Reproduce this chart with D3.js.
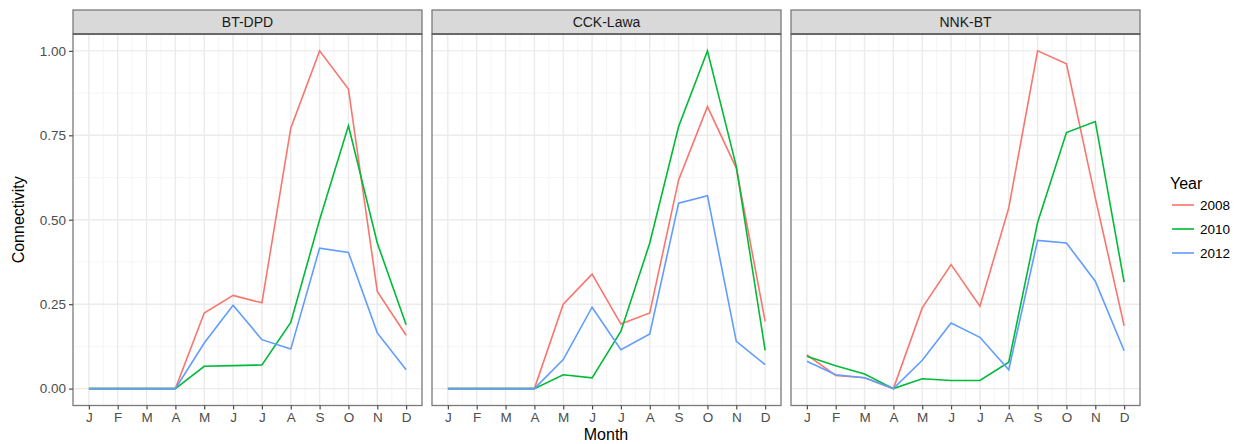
<!DOCTYPE html>
<html>
<head>
<meta charset="utf-8">
<script src="https://cdn.jsdelivr.net/npm/d3@7"></script>
<style>
  body { margin: 0; background: #fff; }
  text { font-family: "Liberation Sans", Arial, sans-serif; }
</style>
</head>
<body>
<script>
// data
const months = ['J', 'F', 'M', 'A', 'M', 'J', 'J', 'A', 'S', 'O', 'N', 'D'];
const sites = ['BT-DPD', 'CCK-Lawa', 'NNK-BT'];
const years = ['2008', '2010', '2012'];
const yTicks = [0, 0.25, 0.5, 0.75, 1];

const btdpd2008 = [0, 0, 0, 0, 0.224, 0.276, 0.254, 0.771, 1.0, 0.887, 0.288, 0.158];
const btdpd2010 = [0, 0, 0, 0, 0.066, 0.068, 0.07, 0.196, 0.5, 0.778, 0.431, 0.189];
const btdpd2012 = [0, 0, 0, 0, 0.135, 0.247, 0.145, 0.117, 0.416, 0.403, 0.165, 0.056];

const cck2008 = [0, 0, 0, 0, 0.25, 0.339, 0.191, 0.224, 0.618, 0.835, 0.653, 0.199];
const cck2010 = [0, 0, 0, 0, 0.041, 0.032, 0.17, 0.431, 0.776, 1.0, 0.658, 0.113];
const cck2012 = [0, 0, 0, 0, 0.086, 0.241, 0.115, 0.162, 0.549, 0.571, 0.14, 0.071];

const nnk2008 = [0.1, 0.039, 0.032, 0, 0.239, 0.367, 0.244, 0.535, 1.0, 0.962, 0.565, 0.186];
const nnk2010 = [0.096, 0.068, 0.043, 0, 0.029, 0.024, 0.024, 0.078, 0.492, 0.758, 0.791, 0.315];
const nnk2012 = [0.081, 0.041, 0.032, 0, 0.084, 0.194, 0.152, 0.056, 0.439, 0.431, 0.318, 0.112];

const seriesBySite = {
  'BT-DPD': [btdpd2008, btdpd2010, btdpd2012],
  'CCK-Lawa': [cck2008, cck2010, cck2012],
  'NNK-BT': [nnk2008, nnk2010, nnk2012]
};

const colors = ['#F8766D', '#00BA38', '#619CFF'];

// layout
const width = 1239;
const height = 444;
const panelLeft = 73;
const panelWidth = 349;
const panelGap = 10;
const stripTop = 10;
const panelTop = 34;
const panelBottom = 405.5;

const svg = d3.select('body')
  .append('svg')
  .attr('width', width)
  .attr('height', height);

const yScale = d3.scaleLinear()
  .domain([-0.05, 1.05])
  .range([panelBottom, panelTop]);

const color = d3.scaleOrdinal().domain(years).range(colors);

sites.forEach((site, p) => {
  const x0 = panelLeft + p * (panelWidth + panelGap);
  const xScale = d3.scaleLinear()
    .domain([0.45, 12.55])
    .range([x0, x0 + panelWidth]);

  const g = svg.append('g');

  // grid minor
  const minorY = [0.125, 0.375, 0.625, 0.875];
  g.selectAll('.minor-y')
    .data(minorY)
    .enter()
    .append('line')
    .attr('x1', x0).attr('x2', x0 + panelWidth)
    .attr('y1', d => yScale(d)).attr('y2', d => yScale(d))
    .attr('stroke', '#f2f2f2').attr('stroke-width', 0.8);

  const minorX = d3.range(1.5, 12, 1);
  g.selectAll('.minor-x')
    .data(minorX)
    .enter()
    .append('line')
    .attr('x1', d => xScale(d)).attr('x2', d => xScale(d))
    .attr('y1', panelTop).attr('y2', panelBottom)
    .attr('stroke', '#f2f2f2').attr('stroke-width', 0.8);

  // grid major
  g.selectAll('.major-y')
    .data(yTicks)
    .enter()
    .append('line')
    .attr('x1', x0).attr('x2', x0 + panelWidth)
    .attr('y1', d => yScale(d)).attr('y2', d => yScale(d))
    .attr('stroke', '#ebebeb').attr('stroke-width', 1.4);

  g.selectAll('.major-x')
    .data(months)
    .enter()
    .append('line')
    .attr('x1', (d, i) => xScale(i + 1)).attr('x2', (d, i) => xScale(i + 1))
    .attr('y1', panelTop).attr('y2', panelBottom)
    .attr('stroke', '#ebebeb').attr('stroke-width', 1.4);

  // lines
  const line = d3.line()
    .x((d, i) => xScale(i + 1))
    .y(d => yScale(d));

  seriesBySite[site].forEach((vals, k) => {
    g.append('path')
      .datum(vals)
      .attr('d', line)
      .attr('fill', 'none')
      .attr('stroke', color(years[k]))
      .attr('stroke-width', 1.6);
  });

  // panel border
  g.append('rect')
    .attr('x', x0).attr('y', panelTop)
    .attr('width', panelWidth).attr('height', panelBottom - panelTop)
    .attr('fill', 'none')
    .attr('stroke', '#7a7a7a').attr('stroke-width', 1.3);

  // strip
  g.append('rect')
    .attr('x', x0).attr('y', stripTop)
    .attr('width', panelWidth).attr('height', panelTop - stripTop)
    .attr('fill', '#d9d9d9')
    .attr('stroke', '#7a7a7a').attr('stroke-width', 1.3);
  g.append('line')
    .attr('x1', x0).attr('x2', x0 + panelWidth)
    .attr('y1', panelTop).attr('y2', panelTop)
    .attr('stroke', '#5a5a5a').attr('stroke-width', 1.6);

  g.append('text')
    .attr('x', x0 + panelWidth / 2)
    .attr('y', (stripTop + panelTop) / 2)
    .attr('dy', '0.35em')
    .attr('text-anchor', 'middle')
    .attr('font-size', 14)
    .attr('fill', '#1a1a1a')
    .text(site);

  // x axis
  const xAxis = d3.axisBottom(xScale)
    .tickValues(d3.range(1, 13))
    .tickFormat(d => months[d - 1])
    .tickSize(4)
    .tickPadding(3);

  const ax = g.append('g')
    .attr('transform', `translate(0, ${panelBottom})`)
    .call(xAxis);
  ax.select('.domain').remove();
  ax.selectAll('line').attr('stroke', '#4d4d4d').attr('stroke-width', 1.2);
  ax.selectAll('text')
    .attr('fill', '#4d4d4d')
    .attr('font-size', 13.5)
    .style('font-family', '"Liberation Sans", Arial, sans-serif');

  // y axis on first panel
  if (p === 0) {
    const yAxis = d3.axisLeft(yScale)
      .tickValues(yTicks)
      .tickFormat(d3.format('.2f'))
      .tickSize(4)
      .tickPadding(3);
    const ay = g.append('g')
      .attr('transform', `translate(${x0}, 0)`)
      .call(yAxis);
    ay.select('.domain').remove();
    ay.selectAll('line').attr('stroke', '#4d4d4d').attr('stroke-width', 1.2);
    ay.selectAll('text')
      .attr('fill', '#4d4d4d')
      .attr('font-size', 13.5)
      .style('font-family', '"Liberation Sans", Arial, sans-serif');
  }
});

// axis titles
svg.append('text')
  .attr('x', 606)
  .attr('y', 440)
  .attr('text-anchor', 'middle')
  .attr('font-size', 16)
  .attr('fill', '#000')
  .text('Month');

svg.append('text')
  .attr('transform', `translate(24, ${(panelTop + panelBottom) / 2}) rotate(-90)`)
  .attr('text-anchor', 'middle')
  .attr('font-size', 16)
  .attr('fill', '#000')
  .text('Connectivity');

// legend
const legend = svg.append('g').attr('transform', 'translate(1170, 0)');
legend.append('text')
  .attr('x', 0)
  .attr('y', 189)
  .attr('font-size', 16)
  .attr('fill', '#000')
  .text('Year');

years.forEach((yr, k) => {
  const yy = 205 + k * 24;
  legend.append('line')
    .attr('x1', 2).attr('x2', 24)
    .attr('y1', yy).attr('y2', yy)
    .attr('stroke', color(yr))
    .attr('stroke-width', 1.6);
  legend.append('text')
    .attr('x', 30)
    .attr('y', yy)
    .attr('dy', '0.35em')
    .attr('font-size', 13.5)
    .attr('fill', '#000')
    .text(yr);
});
</script>
</body>
</html>
